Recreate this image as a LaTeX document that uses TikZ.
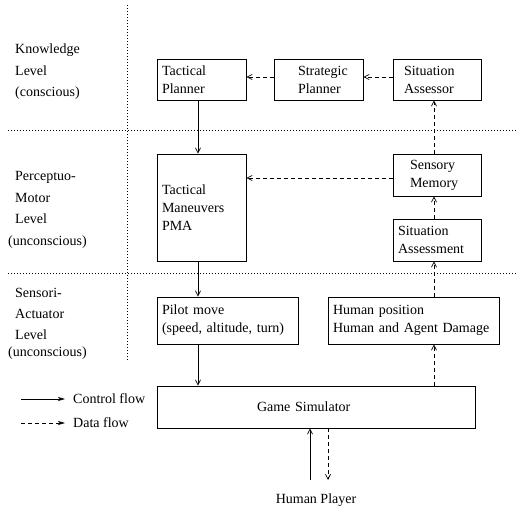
\documentclass[tikz,border=0pt]{standalone}
\usepackage{fontspec}
\setmainfont{Liberation Serif}
\usetikzlibrary{arrows.meta}
\begin{document}
\begin{tikzpicture}[x=1pt,y=-1pt,
  every node/.style={font=\fontsize{14}{18}\selectfont},
  box/.style={draw, line width=0.8pt, rectangle, inner ysep=0pt, align=left},
  lbl/.style={anchor=base west, inner sep=0pt},
  ctrl/.style={line width=0.7pt, -{Straight Barb[length=5pt,width=5pt]}},
  data/.style={line width=0.7pt, dash pattern=on 4pt off 3pt, -{Straight Barb[length=5pt,width=5pt]}},
  sep/.style={line width=0.7pt, dash pattern=on 1pt off 2pt},
  legtip/.style={-{Stealth[length=7pt,width=4pt,inset=2pt]}}]
\useasboundingbox (0,0) rectangle (517,510);

% separators
\draw[sep] (127,5) -- (127,360);
\draw[sep] (8,130) -- (517,130);
\draw[sep] (8,273) -- (517,273);

% level labels
\node[lbl] (k1) at (15,54) {Knowledge};
\node[lbl] (k2) at (15,75.5) {Level};
\node[lbl] (k3) at (15,97) {(conscious)};
\node[lbl] (p1) at (15,181) {Perceptuo-};
\node[lbl] (p2) at (15,202.5) {Motor};
\node[lbl] (p3) at (15,224) {Level};
\node[lbl] (p4) at (8,246) {(unconscious)};
\node[lbl] (s1) at (15,298) {Sensori-};
\node[lbl] (s2) at (15,318.5) {Actuator};
\node[lbl] (s3) at (15,340) {Level};
\node[lbl] (s4) at (8,357) {(unconscious)};

% boxes
\node[box, minimum width=89, minimum height=41, inner xsep=5, text width=79] (tp) at (201.5,79.5) {Tactical\\Planner};
\node[box, minimum width=89, minimum height=41, inner xsep=24, text width=41] (strat) at (318.5,79.5) {Strategic\\Planner};
\node[box, minimum width=88, minimum height=41, inner xsep=11, text width=66] (sas) at (437,79.5) {Situation\\Assessor};
\node[box, minimum width=89, minimum height=107, inner xsep=5, text width=79] (tm) at (201.5,207.5) {Tactical\\Maneuvers\\PMA};
\node[box, minimum width=88, minimum height=42, inner xsep=17, text width=54] (sm) at (437,175) {Sensory\\Memory};
\node[box, minimum width=88, minimum height=42, inner xsep=5, text width=78] (sa) at (437,240) {Situation\\Assessment};
\node[box, minimum width=141, minimum height=47, inner xsep=5, text width=131] (pm) at (227.5,320.5) {Pilot move\\(speed, altitude, turn)};
\node[box, minimum width=171, minimum height=47, inner xsep=5, text width=161] (hp) at (413.5,320.5) {Human position\\Human and Agent Damage};
\node[box, minimum width=318, minimum height=42, inner xsep=100, text width=118] (gs) at (316,407) {Game Simulator};
\node[inner sep=0pt] (hpl) at (316,500) {Human Player};

% control flow
\coordinate (cx) at (198,0);
\draw[ctrl] (tp.south -| cx) -- (tm.north -| cx);
\draw[ctrl] (tm.south -| cx) -- (pm.north -| cx);
\draw[ctrl] (pm.south -| cx) -- (gs.north -| cx);

% data flow
\coordinate (dx) at (434,0);
\draw[data] (gs.north -| dx) -- (hp.south -| dx);
\draw[data] (hp.north -| dx) -- (sa.south -| dx);
\draw[data] (sa.north -| dx) -- (sm.south -| dx);
\draw[data] (sm.north -| dx) -- (sas.south -| dx);
\coordinate (hy) at (0,77);
\draw[data] (sas.west |- hy) -- (strat.east |- hy);
\draw[data] (strat.west |- hy) -- (tp.east |- hy);
\coordinate (my) at (0,178);
\draw[data] (sm.west |- my) -- (tm.east |- my);

% human player
\coordinate (pu) at (310,480);
\coordinate (pd) at (328,480);
\draw[ctrl] (pu) -- (pu |- gs.south);
\draw[data] (pd |- gs.south) -- (pd);

% legend
\coordinate (la) at (21,399);
\coordinate (lb) at (65,399);
\coordinate (lc) at (21,423);
\coordinate (ld) at (65,423);
\draw[line width=0.7pt, legtip] (la) -- (lb);
\draw[line width=0.7pt, dash pattern=on 4pt off 3pt, legtip] (lc) -- (ld);
\node[lbl] (lt1) at (73,404) {Control flow};
\node[lbl] (lt2) at (73,428) {Data flow};
\end{tikzpicture}
\end{document}
